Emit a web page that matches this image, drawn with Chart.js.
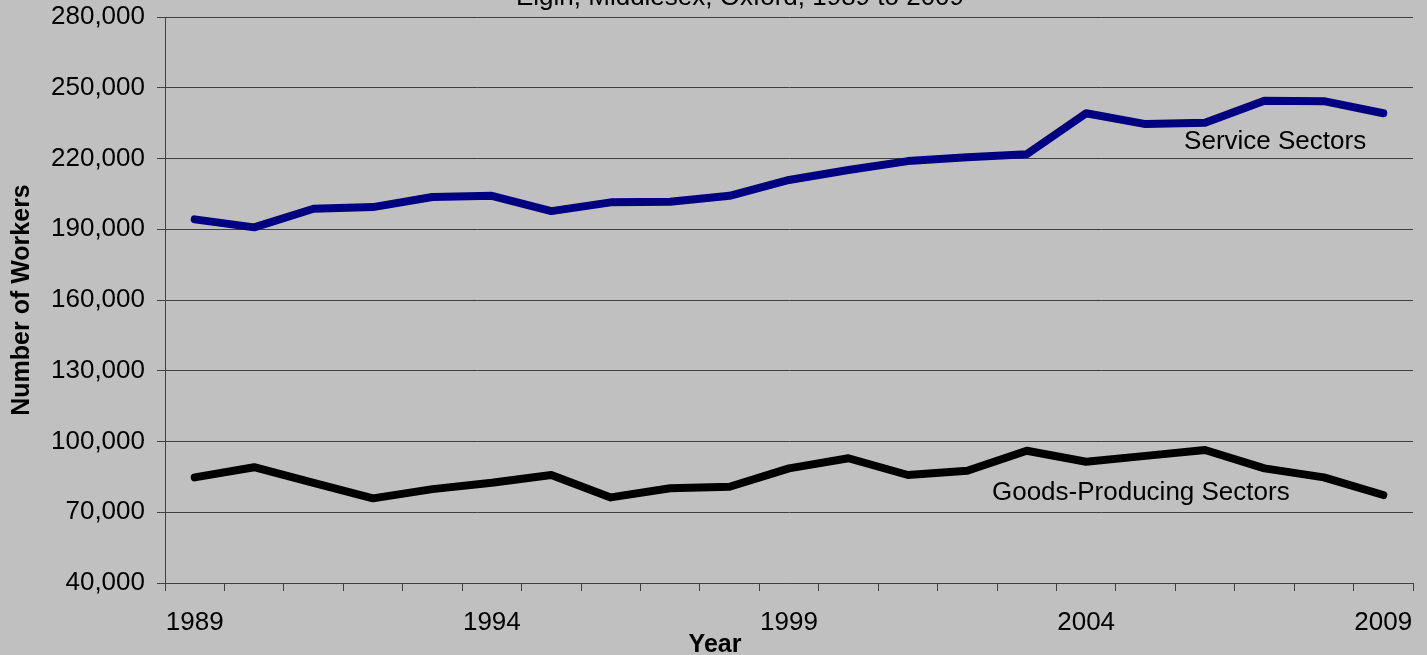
<!DOCTYPE html>
<html>
<head>
<meta charset="utf-8">
<script src="https://cdn.jsdelivr.net/npm/chart.js@4/dist/chart.umd.min.js"></script>
<style>
  html, body { margin: 0; padding: 0; background: #c0c0c0; }
  #wrap { width: 1427px; height: 655px; overflow: hidden; }
</style>
</head>
<body>
<div id="wrap"><canvas id="chart" width="1427" height="655"></canvas></div>
<script>
// years on the category axis
const years = ['1989','1990','1991','1992','1993','1994','1995','1996','1997','1998','1999',
               '2000','2001','2002','2003','2004','2005','2006','2007','2008','2009'];

// workers per sector
const serviceSectors = [194200,190800,198700,199400,203700,204200,197700,201400,201700,204200,210900,
                        215100,218900,220500,221800,239200,234600,235200,244500,244300,239200];
const goodsProducing = [84800,89100,82500,75900,79800,82500,85800,76300,80200,80800,88600,
                        92900,85800,87600,96100,91400,93900,96400,88600,84800,77300];

// y axis
const yMin = 40000;
const yMax = 280000;
const yStep = 30000;

const titleText = 'Elgin, Middlesex, Oxford, 1989 to 2009';
const FONT = '"Liberation Sans", Arial, sans-serif';

// text drawn on the plot: label, category position, value at baseline
const seriesLabels = [
  { text: 'Service Sectors', at: 18.18, value: 224000 },
  { text: 'Goods-Producing Sectors', at: 15.92, value: 75200 }
];

const textPlugin = {
  id: 'textPlugin',
  afterDraw(chart) {
    const ctx = chart.ctx;
    const xs = chart.scales.x, ys = chart.scales.y;
    ctx.save();
    ctx.fillStyle = '#000';
    ctx.textAlign = 'center';
    ctx.textBaseline = 'alphabetic';
    ctx.font = '26px ' + FONT;
    // title (mostly cut at the top)
    ctx.fillText(titleText, 740, 5);
    for (const l of seriesLabels) {
      ctx.fillText(l.text, xs.getPixelForValue(l.at), ys.getPixelForValue(l.value));
    }
    // x axis title
    ctx.font = 'bold 25px ' + FONT;
    ctx.fillText('Year', 715, 652);
    ctx.restore();
  }
};

const ctx = document.getElementById('chart').getContext('2d');
const chart = new Chart(ctx, {
  type: 'line',
  data: {
    labels: years,
    datasets: [
      {
        label: 'Service Sectors',
        data: serviceSectors,
        borderColor: '#000080',
        borderWidth: 8,
        borderCapStyle: 'round',
        borderJoinStyle: 'round',
        pointRadius: 0,
        fill: false,
        tension: 0
      },
      {
        label: 'Goods-Producing Sectors',
        data: goodsProducing,
        borderColor: '#000000',
        borderWidth: 8,
        borderCapStyle: 'round',
        borderJoinStyle: 'round',
        pointRadius: 0,
        fill: false,
        tension: 0
      }
    ]
  },
  options: {
    responsive: false,
    animation: false,
    layout: { padding: { top: 17, right: 14, left: 0, bottom: 0 } },
    plugins: {
      legend: { display: false },
      tooltip: { enabled: false },
      title: { display: false }
    },
    scales: {
      x: {
        type: 'category',
        offset: true,
        afterFit(scale) {
          scale.height = 72;
          scale.paddingLeft = 0;
          scale.paddingRight = 0;
        },
        grid: {
          offset: true,
          drawOnChartArea: false,
          drawTicks: true,
          tickLength: 8,
          tickColor: '#404040',
          lineWidth: 1
        },
        border: { display: true, color: '#404040', width: 1 },
        ticks: {
          autoSkip: false,
          maxRotation: 0,
          padding: 16,
          color: '#000',
          font: { family: FONT, size: 26 },
          callback: function (val, i) { return i % 5 === 0 ? years[i] : ''; }
        }
      },
      y: {
        min: yMin,
        max: yMax,
        afterFit(scale) {
          scale.width = 165;
          scale.paddingTop = 0;
          scale.paddingBottom = 0;
        },
        grid: {
          color: '#404040',
          lineWidth: 1,
          drawTicks: true,
          tickLength: 8,
          tickColor: '#404040'
        },
        border: { display: true, color: '#404040', width: 1 },
        ticks: {
          stepSize: yStep,
          padding: 12,
          color: '#000',
          font: { family: FONT, size: 26 },
          callback: function (v) { return v.toLocaleString('en-US'); }
        },
        title: {
          display: true,
          text: 'Number of Workers',
          color: '#000',
          font: { family: FONT, size: 25, weight: 'bold' },
          padding: { top: 7, bottom: 0 }
        }
      }
    }
  },
  plugins: [textPlugin]
});
</script>
</body>
</html>
